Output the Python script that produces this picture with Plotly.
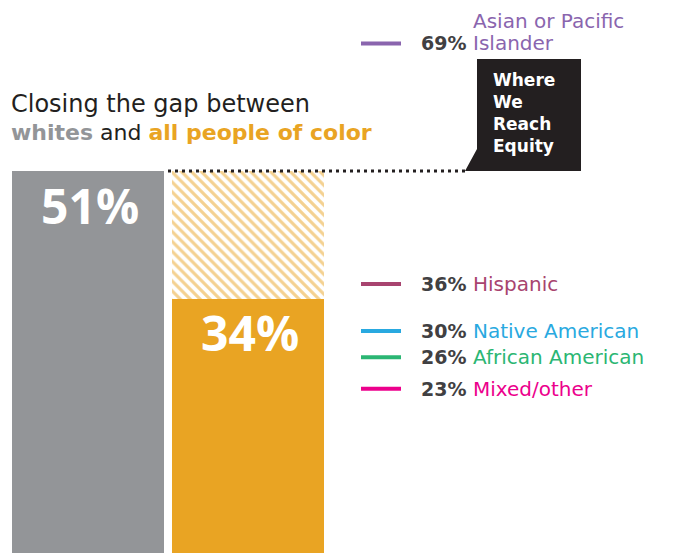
import plotly.graph_objects as go

# ---- data ----
bar_categories = ["whites", "all people of color"]
bar_values = [51, 34]
bar_labels = ["51%", "34%"]

group_names = ["Asian or Pacific<br>Islander", "Hispanic", "Native American",
               "African American", "Mixed/other"]
group_values = [69, 36, 30, 26, 23]
group_labels = ["69%", "36%", "30%", "26%", "23%"]
group_colors = ["#8A65AE", "#A8446F", "#29A9E0", "#2BB673", "#EC008C"]

callout_text = "Where<br>We<br>Reach<br>Equity"

# ---- styling / layout ----
OFF = 8  # page body margin
W, H = 674 - OFF, 553 - OFF
GRAY = "#939598"
ORANGE = "#E9A423"
DARK = "#231F20"
LABEL = "#414042"
FONT = "DejaVu Sans"
NUMFONT = "Open Sans"

SLOPE = 128 / 17
ZERO = 555 - OFF
YMAX = ZERO / SLOPE
YMIN = (ZERO - H) / SLOPE


def px_x(p):
    return (p - OFF) / W


def px_y(p):
    return 1 - (p - OFF) / H


fig = go.Figure()

fig.add_trace(go.Bar(
    x=bar_categories, y=bar_values,
    marker=dict(color=[GRAY, ORANGE], line=dict(width=0)),
    hoverinfo="skip", showlegend=False,
))
gap = bar_values[0] - bar_values[1]
fig.add_trace(go.Bar(
    x=[bar_categories[1]], y=[gap], base=[bar_values[1]],
    marker=dict(color="white", line=dict(width=0),
                pattern=dict(shape="\\", fgcolor=ORANGE, bgcolor="white",
                             size=7, solidity=0.45)),
    hoverinfo="skip", showlegend=False,
))

label_offsets = [-34, -33]
for cat, v, t, off in zip(bar_categories, bar_values, bar_labels, label_offsets):
    fig.add_annotation(x=cat, y=v, xref="x", yref="y", text=f"<b>{t}</b>",
                       showarrow=False, yshift=off, xshift=2,
                       font=dict(family=NUMFONT, size=48, color="white"))

shapes = []
shapes.append(dict(type="line", xref="paper", yref="y",
                   x0=px_x(168), x1=px_x(466), y0=bar_values[0], y1=bar_values[0],
                   line=dict(color=DARK, width=3, dash="3px,4px")))
ybot = ZERO - bar_values[0] * SLOPE + OFF
pts = [(477, 59), (581, 59), (581, ybot), (465, ybot), (477, ybot - 22)]
path = "M " + " L ".join(f"{px_x(a):.5f},{px_y(b):.5f}" for a, b in pts) + " Z"
shapes.append(dict(type="path", xref="paper", yref="paper", path=path,
                   fillcolor=DARK, line=dict(width=0)))

nudges = [-8, 0, -2, 2, -7]
for name, v, lab, col, n in zip(group_names, group_values, group_labels, group_colors, nudges):
    shapes.append(dict(type="line", xref="paper", yref="y", ysizemode="pixel",
                       yanchor=v, y0=n, y1=n, x0=px_x(361), x1=px_x(401),
                       line=dict(color=col, width=4)))
    fig.add_annotation(x=px_x(467), y=v, xref="paper", yref="y", yshift=n,
                       text=f"<b>{lab}</b>", showarrow=False, xanchor="right",
                       yanchor="middle", borderpad=0,
                       font=dict(family=FONT, size=19, color=LABEL))
    parts = name.split("<br>")
    for i, part in enumerate(reversed(parts)):
        fig.add_annotation(x=px_x(472), y=v, xref="paper", yref="y",
                           yshift=n + 22 * i, borderpad=0,
                           text=part, showarrow=False, xanchor="left", yanchor="middle",
                           font=dict(family=FONT, size=20, color=col))

fig.add_annotation(x=px_x(492), y=px_y(113), xref="paper", yref="paper",
                   text=f"<b>{callout_text}</b>", showarrow=False, align="left",
                   xanchor="left", yanchor="middle", borderpad=0,
                   font=dict(family=FONT, size=17, color="white"))

fig.add_annotation(x=px_x(10), y=px_y(104), xref="paper", yref="paper",
                   text="Closing the gap between", showarrow=False,
                   xanchor="left", yanchor="middle", borderpad=0,
                   font=dict(family=FONT, size=24, color=DARK))
fig.add_annotation(x=px_x(10), y=px_y(133), xref="paper", yref="paper",
                   text=f"<b><span style='color:{GRAY}'>whites</span></b> and "
                        f"<b><span style='color:{ORANGE}'>all people of color</span></b>",
                   showarrow=False, xanchor="left", yanchor="middle", borderpad=0,
                   font=dict(family=FONT, size=22, color=DARK))

fig.update_layout(
    width=W, height=H,
    margin=dict(l=0, r=0, t=0, b=0),
    paper_bgcolor="white", plot_bgcolor="white",
    barmode="overlay", bargap=8 / 160,
    shapes=shapes,
    xaxis=dict(domain=[px_x(8), px_x(328)], visible=False, fixedrange=True),
    yaxis=dict(range=[YMIN, YMAX], visible=False, fixedrange=True),
    showlegend=False,
)

fig.write_html("out.html")
